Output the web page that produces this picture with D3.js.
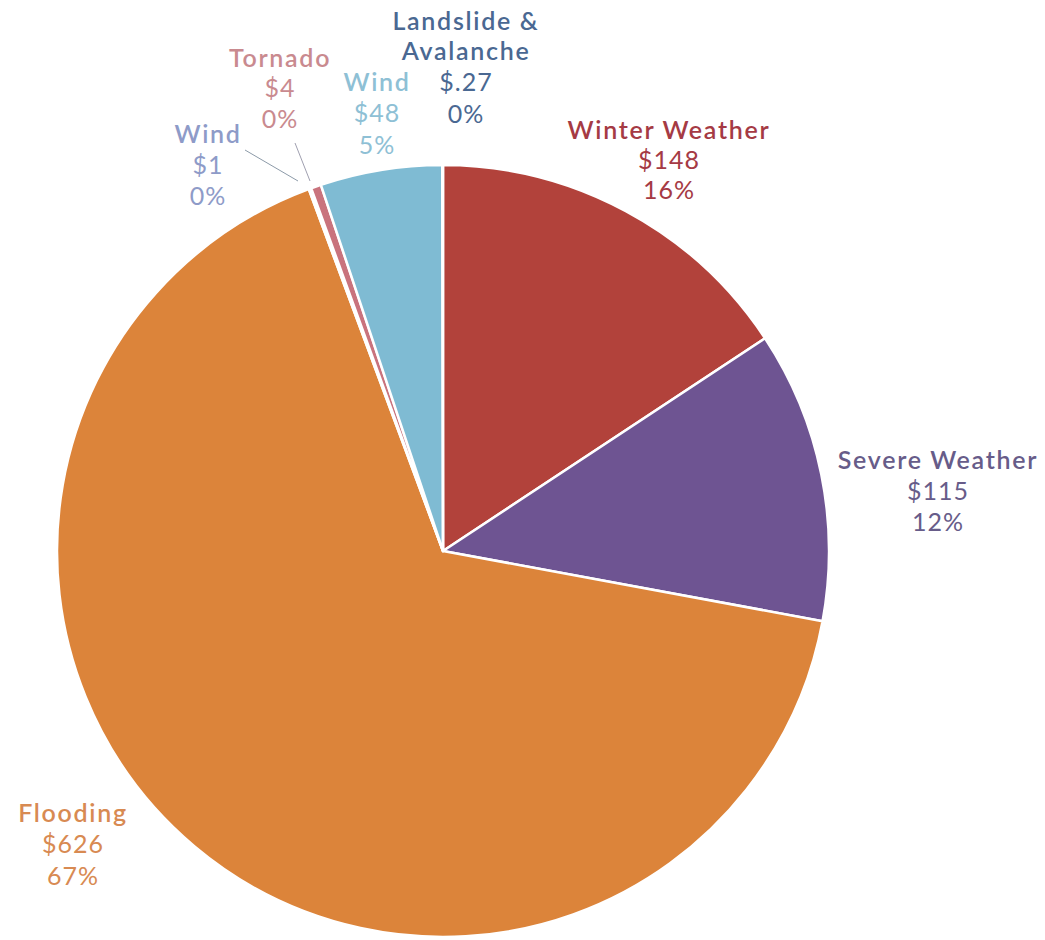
<!DOCTYPE html>
<html>
<head>
<meta charset="utf-8">
<script src="https://cdn.jsdelivr.net/npm/d3@7"></script>
<style>
  html, body { margin: 0; padding: 0; background: #ffffff; }
  svg { display: block; }
  text { font-family: "Lato", "Open Sans", sans-serif; }
</style>
</head>
<body>
<svg id="chart" width="1045" height="940"></svg>
<script>
// ---- data ----
const categories = ["Winter Weather", "Severe Weather", "Flooding", "Wind", "Tornado", "Wind", "Landslide & Avalanche"];
const values = [148, 115, 626, 1, 4, 48, 0.27];
const valueLabels = ["$148", "$115", "$626", "$1", "$4", "$48", "$.27"];
const percentLabels = ["16%", "12%", "67%", "0%", "0%", "5%", "0%"];

// ---- styling / layout (not data) ----
const sliceColors = ["#b2423b", "#6e5492", "#dc843a", "#a3abd8", "#c9737d", "#7fbbd3", "#46679a"];
const textColors  = ["#a53a44", "#675c89", "#d88a52", "#8e9bc8", "#c98a8f", "#8ec0d5", "#4a6892"];
const labelLayout = [
  { x: 669, lines: [139, 169, 199] },
  { x: 938, lines: [469, 500, 531] },
  { x: 73,  lines: [822, 853, 885] },
  { x: 208, lines: [143, 174, 205] },
  { x: 280, lines: [67, 97, 128] },
  { x: 377, lines: [91, 122, 154] },
  { x: 466, lines: [30, 60, 91, 123] }
];
const leaders = { 3: [[245, 150], [298, 181]], 4: [[295, 143], [310, 181]] };

const cx = 443, cy = 551, R = 386;
const svg = d3.select("#chart");
const g = svg.append("g").attr("transform", `translate(${cx},${cy})`);

const data = categories.map((c, i) => ({ i, name: c, value: values[i] }));
const pie = d3.pie().sort(null).value(d => d.value).startAngle(0).endAngle(2 * Math.PI);
const arc = d3.arc().innerRadius(0).outerRadius(R);

g.selectAll("path.slice")
  .data(pie(data))
  .join("path")
  .attr("class", "slice")
  .attr("d", arc)
  .attr("fill", d => sliceColors[d.data.i])
  .attr("stroke", "#ffffff")
  .attr("stroke-width", 2.5)
  .attr("stroke-linejoin", "round");

// leader lines
Object.entries(leaders).forEach(([i, pts]) => {
  svg.append("line")
    .attr("x1", pts[0][0]).attr("y1", pts[0][1])
    .attr("x2", pts[1][0]).attr("y2", pts[1][1])
    .attr("stroke", i == 3 ? "#8c9aa8" : "#a0a0b0")
    .attr("stroke-width", 1);
});

// labels
data.forEach((d, i) => {
  const L = labelLayout[i];
  const nameLines = d.name === "Landslide & Avalanche" ? ["Landslide &", "Avalanche"] : [d.name];
  const lines = nameLines.map(t => ({ t, w: 600, ls: 1.7 }))
    .concat([{ t: valueLabels[i], w: 400, ls: 1 }, { t: percentLabels[i], w: 400, ls: 1 }]);
  lines.forEach((ln, k) => {
    svg.append("text")
      .attr("text-anchor", "middle")
      .attr("fill", textColors[i])
      .attr("font-size", 25)
      .attr("letter-spacing", ln.ls)
      .attr("x", L.x)
      .attr("y", L.lines[k])
      .attr("font-weight", ln.w)
      .text(ln.t);
  });
});
</script>
</body>
</html>
